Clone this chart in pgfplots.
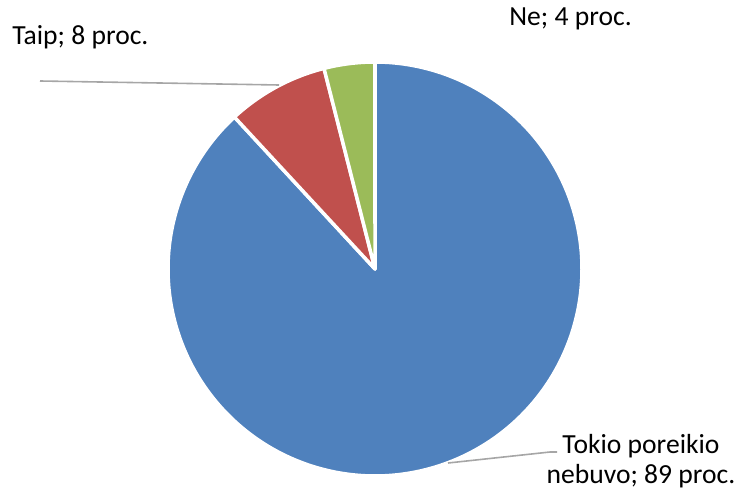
\documentclass[border=0pt]{standalone}
\usepackage{pgfplots}
\pgfplotsset{compat=1.18}
\usepackage{pgfplotstable}
\usepackage{fontspec}
\setmainfont{Carlito}
\definecolor{pieblue}{HTML}{4F81BD}
\definecolor{piered}{HTML}{C0504D}
\definecolor{piegreen}{HTML}{9BBB59}
\definecolor{leader}{HTML}{A6A6A6}
\pgfplotstableread{
label value
Tokio 89
Taip 8
Ne 4
}\piedata
\begin{document}
\begin{tikzpicture}
\pgfplotstablegetelem{0}{value}\of\piedata \let\va\pgfplotsretval
\pgfplotstablegetelem{1}{value}\of\piedata \let\vb\pgfplotsretval
\pgfplotstablegetelem{2}{value}\of\piedata \let\vc\pgfplotsretval
\pgfmathsetmacro\tot{\va+\vb+\vc}
\pgfmathsetmacro\bEnd{90-360*(\va/\tot)}
\pgfmathsetmacro\rEnd{\bEnd-360*(\vb/\tot)}
\pgfmathsetmacro\gEnd{\rEnd-360*(\vc/\tot)}
\begin{axis}[
  width=368.5pt, height=246.5pt, scale only axis,
  xmin=0, xmax=737, ymin=0, ymax=493,
  hide axis, clip=false,
]
\path (axis cs:0,0) rectangle (axis cs:737,493);
\addplot[fill=pieblue, draw=white, line width=1.75pt, line join=round, domain=\bEnd:90, samples=240, variable=\t]
  ({375+207*cos(\t)},{224+207*sin(\t)}) -- (axis cs:375,224) -- cycle;
\addplot[fill=piered, draw=white, line width=1.75pt, line join=round, domain=\rEnd:\bEnd, samples=40, variable=\t]
  ({375+207*cos(\t)},{224+207*sin(\t)}) -- (axis cs:375,224) -- cycle;
\addplot[fill=piegreen, draw=white, line width=1.75pt, line join=round, domain=\gEnd:\rEnd, samples=30, variable=\t]
  ({375+207*cos(\t)},{224+207*sin(\t)}) -- (axis cs:375,224) -- cycle;
% leader lines
\addplot[leader, line width=0.8pt, no markers] coordinates {(40,412) (279,408)};
\addplot[leader, line width=0.8pt, no markers] coordinates {(448,30) (550,41) (557,41)};
% labels
\node[anchor=base west, inner sep=0pt, font=\fontsize{13.8}{15}\selectfont] at (axis cs:12,448) {Taip; 8 proc.};
\node[anchor=base west, inner sep=0pt, font=\fontsize{13.8}{15}\selectfont] at (axis cs:509,467) {Ne; 4 proc.};
\node[anchor=base, inner sep=0pt, align=center, font=\fontsize{13.8}{15}\selectfont] at (axis cs:641,10) {Tokio poreikio\\nebuvo; 89 proc.};
\end{axis}
\end{tikzpicture}
\end{document}
